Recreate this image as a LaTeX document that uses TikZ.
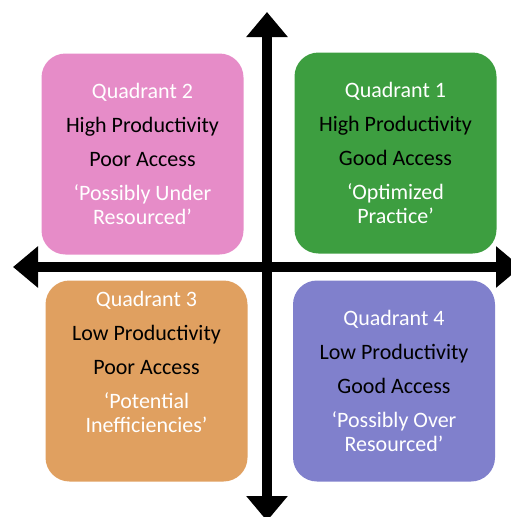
\documentclass[tikz,border=0pt]{standalone}
\usepackage{fontspec}
\setmainfont{Carlito}
\usetikzlibrary{arrows.meta}
\definecolor{quadgreen}{HTML}{3D9E40}
\definecolor{quadpink}{HTML}{E68CC8}
\definecolor{quadorange}{HTML}{E0A060}
\definecolor{quadpurple}{HTML}{8080CC}

\begin{document}
\begin{tikzpicture}[x=1pt,y=-1pt,
    quadbox/.style={rounded corners=24pt, minimum width=202pt, minimum height=201pt, inner sep=0pt},
    quadtext/.style={align=center, font=\fontsize{22}{24}\selectfont, text=black},
    axis/.style={line width=10pt, {Triangle[length=25pt,width=40pt]}-{Triangle[length=25pt,width=40pt]}}]
  \useasboundingbox (0,0) rectangle (511,517);
  % axis ends
  \coordinate (left) at (13,267);
  \coordinate (right) at (521,267);
  \coordinate (top) at (267,12);
  \coordinate (bottom) at (267,521);
  \draw[axis] (left) -- (right);
  \draw[axis] (top) -- (bottom);
  \foreach \q/\x/\y/\col/\dy/\prod/\acc/\tagA/\tagB in {
      1/395.5/153/quadgreen/0/High/Good/Optimized/Practice,
      2/142.5/154/quadpink/0/High/Poor/Possibly Under/Resourced,
      3/146.5/381/quadorange/19/Low/Poor/Potential/Inefficiencies,
      4/394/381/quadpurple/0/Low/Good/Possibly Over/Resourced} { %one box for each quadrant
    \node[quadbox, fill=\col] (q\q) at (\x,\y) {};
    \node[quadtext, yshift=\dy pt] (t\q) at (q\q.center) {\textcolor{white}{Quadrant \q}\\[10pt]
      \prod{} Productivity\\[10pt]
      \acc{} Access\\[10pt]
      \textcolor{white}{‘\tagA}\\
      \textcolor{white}{\tagB’}};
  }
\end{tikzpicture}
\end{document}
